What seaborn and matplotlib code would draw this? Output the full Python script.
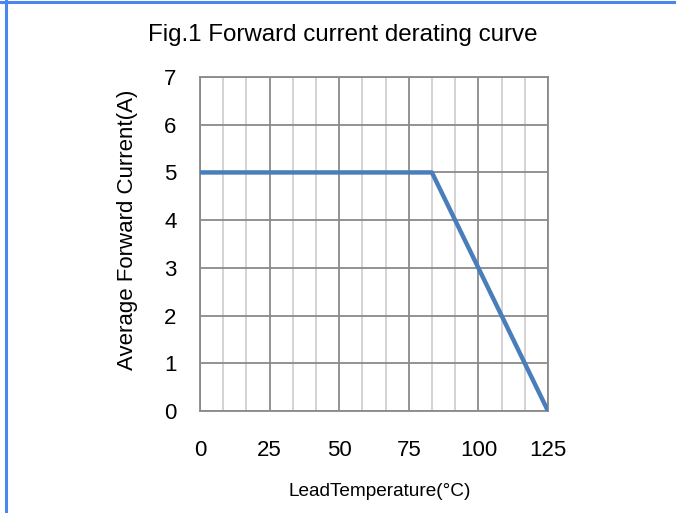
import numpy as np
import pandas as pd
import matplotlib
matplotlib.use("Agg")
import matplotlib.pyplot as plt
import seaborn as sns
from matplotlib.lines import Line2D

# 曲线数据
lead_temp = [0, 83.3, 125]
avg_current = [5, 5, 0]
x_ticks = [0, 25, 50, 75, 100, 125]
y_ticks = [0, 1, 2, 3, 4, 5, 6, 7]

sns.set_style("white")
plt.rcParams['font.family'] = ['Liberation Sans', 'DejaVu Sans']
plt.rcParams['text.color'] = 'black'

fig = plt.figure(figsize=(6.76, 5.13), dpi=100)
ax = fig.add_axes([200 / 676, 102 / 513, 348 / 676, 334 / 513])

df = pd.DataFrame({'t': lead_temp, 'i': avg_current})

# 网格: 主线每25, 次线每25/3
minor_x = np.linspace(0, 125, 16)
for k, xv in enumerate(minor_x):
    major = (k % 3 == 0)
    ax.axvline(xv, color='#8a8a8a' if major else '#c8c8c8',
               lw=1.3 if major else 1.1, zorder=1)
for yv in y_ticks:
    ax.axhline(yv, color='#8a8a8a', lw=1.3, zorder=1)

sns.lineplot(data=df, x='t', y='i', ax=ax, color='#4a7ebb', lw=3.2, zorder=3)

ax.set_xlim(0, 125)
ax.set_ylim(0, 7)
ax.set_xticks(x_ticks)
ax.set_yticks(y_ticks)
ax.tick_params(axis='both', length=0, labelsize=16, colors='black')
ax.tick_params(axis='x', pad=21)
ax.tick_params(axis='y', pad=17)
ax.set_xlabel('')
ax.set_ylabel('')
for s in ax.spines.values():
    s.set_color('#8a8a8a')
    s.set_linewidth(1.3)

fig.text(343 / 676, 1 - 35 / 513, 'Fig.1 Forward current derating curve',
         ha='center', va='center', fontsize=17.4)
fig.text(380 / 676, 1 - 491 / 513, 'LeadTemperature(°C)',
         ha='center', va='center', fontsize=13.7)
fig.text(128 / 676, 1 - 230 / 513, 'Average Forward Current(A)',
         ha='center', va='center', fontsize=16, rotation=90)

# 蓝色边框
fig.add_artist(Line2D([0, 1], [1 - 2 / 513, 1 - 2 / 513], transform=fig.transFigure,
                      color='#4a86f0', lw=2.2))
fig.add_artist(Line2D([6 / 676, 6 / 676], [0, 1], transform=fig.transFigure,
                      color='#4a86f0', lw=2.2))

plt.savefig('out.png', dpi=100)
